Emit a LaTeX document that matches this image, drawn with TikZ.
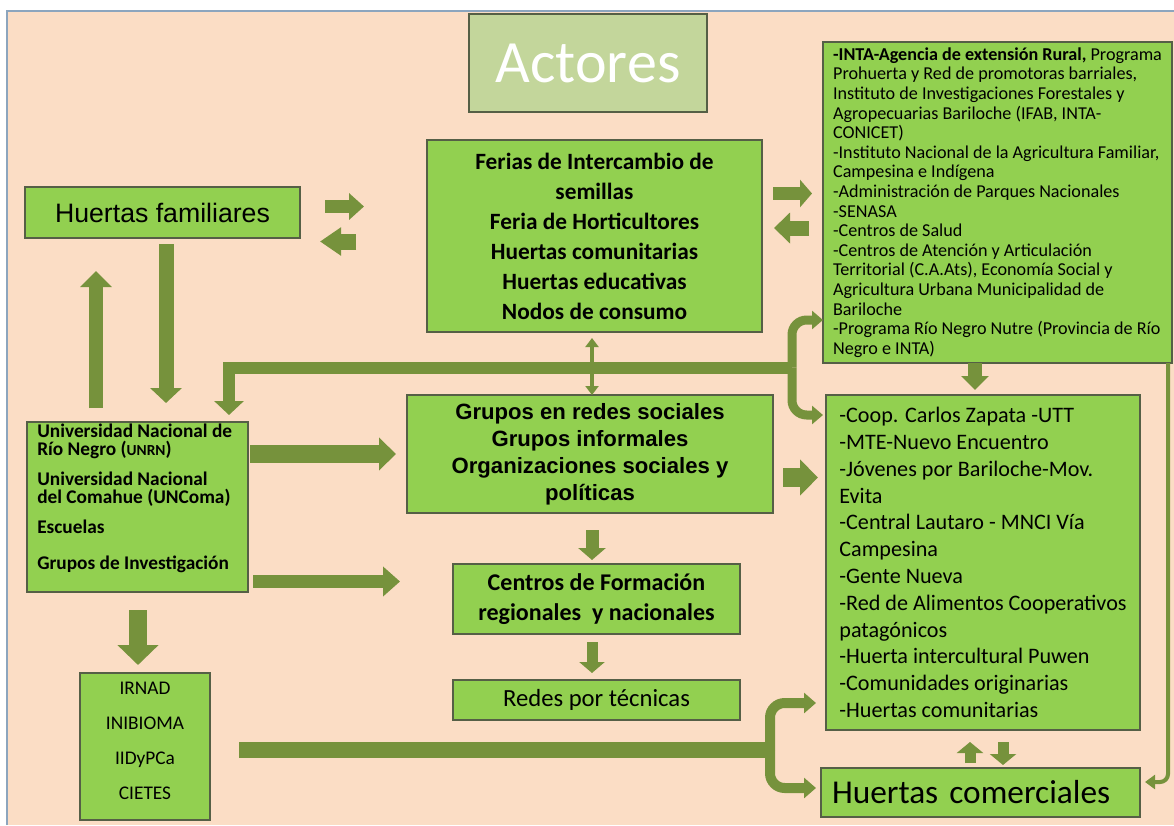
\documentclass[tikz,border=0pt]{standalone}
\usepackage{fontspec}
\setmainfont{Carlito}
\newfontfamily\arialf{Liberation Sans}
\usetikzlibrary{arrows.meta}
\definecolor{peach}{RGB}{251,221,197}
\definecolor{boxg}{RGB}{146,208,80}
\definecolor{arrc}{RGB}{118,146,60}
\definecolor{titleg}{RGB}{195,214,155}
\definecolor{edgec}{RGB}{85,95,70}
\definecolor{framec}{RGB}{140,165,190}
\tikzset{
  gbox/.style={draw=edgec, line width=0.8pt, fill=boxg, inner sep=0pt, text=black},
  blk/.style n args={3}{draw=arrc, line width=#1, -{Triangle[width=#2,length=#3]}},
  dbl/.style n args={3}{draw=arrc, line width=#1, {Triangle[width=#2,length=#3]}-{Triangle[width=#2,length=#3]}},
  barline/.style={draw=arrc, line width=#1},
}
\begin{document}
\begin{tikzpicture}[x=0.75pt,y=-0.75pt]
\useasboundingbox (0,0) rectangle (1174,825);
\fill[white] (0,0) rectangle (1174,825);
\fill[peach] (7,11) rectangle (1174,825);
\draw[framec, line width=1pt] (7,825) -- (7,11) -- (1174,11);

% boxes
\node[gbox, fill=titleg, minimum width=178.5pt, minimum height=73.5pt, text=white,
      font=\fontsize{45}{50}\selectfont] (title) at (588,63) {Actores};
\node[gbox, minimum width=206.25pt, minimum height=38.25pt,
      font=\arialf\fontsize{20}{24}\selectfont] (hf) at (162.5,212.5) {Huertas familiares};
\node[gbox, minimum width=251.25pt, minimum height=144pt, align=center,
      font=\bfseries\fontsize{17.5}{22.5}\selectfont] (ferias) at (594.5,236)
      {Ferias de Intercambio de\\semillas\\Feria de Horticultores\\Huertas comunitarias\\Huertas educativas\\Nodos de consumo};
\node[gbox, minimum width=261.75pt, minimum height=240.75pt, align=left,
      font=\fontsize{13.6}{14.7}\selectfont] (inta) at (997.5,202.5)
      {\textbf{-INTA-Agencia de extensión Rural,} Programa\\
       Prohuerta y Red de promotoras barriales,\\
       Instituto de Investigaciones Forestales y\\
       Agropecuarias Bariloche (IFAB, INTA-\\
       CONICET)\\
       -Instituto Nacional de la Agricultura Familiar,\\
       Campesina e Indígena\\
       -Administración de Parques Nacionales\\
       -SENASA\\
       -Centros de Salud\\
       -Centros de Atención y Articulación\\
       Territorial (C.A.Ats), Economía Social y\\
       Agricultura Urbana Municipalidad de\\
       Bariloche\\
       -Programa Río Negro Nutre (Provincia de Río\\
       Negro e INTA)};
\node[gbox, minimum width=165.75pt, minimum height=127.5pt] (univ) at (137.5,507) {};
\node[anchor=north west, inner sep=0pt, align=left,
      font=\bfseries\fontsize{14.5}{13.5}\selectfont] (univt) at (37,424)
      {Universidad Nacional de\\Río Negro ({\fontsize{11.5}{12}\selectfont UNRN})\\[9pt]
       Universidad Nacional\\del Comahue (UNComa)\\[9pt]
       Escuelas\\[13.5pt]
       Grupos de Investigación};
\node[gbox, minimum width=274.5pt, minimum height=88.5pt, align=center,
      font=\arialf\bfseries\fontsize{16.6}{20.25}\selectfont] (grupos) at (590,454)
      {Grupos en redes sociales\\Grupos informales\\Organizaciones sociales y\\políticas};
\node[gbox, minimum width=215.25pt, minimum height=52.5pt, align=center,
      font=\bfseries\fontsize{18}{22.5}\selectfont] (centros) at (596.5,599)
      {Centros de Formación\\regionales\ \ y nacionales};
\node[gbox, minimum width=215.25pt, minimum height=30pt,
      font=\fontsize{18.5}{22}\selectfont] (redes) at (596.5,700) {Redes por técnicas};
\node[gbox, minimum width=97.5pt, minimum height=110.25pt] (irnad) at (145,746.5) {};
\node[align=center, inner sep=0pt, font=\fontsize{14.5}{26.25}\selectfont] (irnadt) at (145,741)
      {IRNAD\\INIBIOMA\\IIDyPCa\\CIETES};
\node[gbox, minimum width=235.5pt, minimum height=251.25pt, align=left,
      font=\fontsize{16.6}{20.1}\selectfont] (coop) at (983,562.5)
      {-Coop. Carlos Zapata -UTT\\
       -MTE-Nuevo Encuentro\\
       -Jóvenes por Bariloche-Mov.\\
       Evita\\
       -Central Lautaro - MNCI Vía\\
       Campesina\\
       -Gente Nueva\\
       -Red de Alimentos Cooperativos\\
       patagónicos\\
       -Huerta intercultural Puwen\\
       -Comunidades originarias\\
       -Huertas comunitarias};
\node[gbox, minimum width=239.25pt, minimum height=36.75pt, text width=222.75pt, inner xsep=8.25pt,
      align=left, font=\fontsize{25}{28}\selectfont] (hc) at (980.5,792.5) {Huertas comerciales};

% free ends of connectors
\coordinate (a1s) at (325,206.5); \coordinate (a1e) at (364,206.5);
\coordinate (a2s) at (356,241.5); \coordinate (a2e) at (320,241.5);
\coordinate (a3s) at (773,193.5); \coordinate (a3e) at (812,193.5);
\coordinate (a4s) at (809,228);   \coordinate (a4e) at (774,228);
\coordinate (a5s) at (166,244);   \coordinate (a5e) at (166,403);
\coordinate (a6s) at (96,408);    \coordinate (a6e) at (96,271);
\coordinate (j1) at (792,367.5);  \coordinate (u1) at (229,415);
\coordinate (t1) at (823,320);    \coordinate (t2) at (823,415);
\coordinate (m1) at (592,338);    \coordinate (m2) at (592,395);
\coordinate (a10s) at (250,454);  \coordinate (a10e) at (396,454);
\coordinate (a11s) at (253,581.5);\coordinate (a11e) at (400,581.5);
\coordinate (a12s) at (783,477.5);\coordinate (a12e) at (818,477.5);
\coordinate (a13s) at (592,530);  \coordinate (a13e) at (592,560);
\coordinate (a14s) at (592,642);  \coordinate (a14e) at (592,673);
\coordinate (a15s) at (138,610);  \coordinate (a15e) at (138,665);
\coordinate (a16s) at (975,363);  \coordinate (a16e) at (975,390);
\coordinate (b2s) at (239,750);   \coordinate (j2) at (770,750);
\coordinate (t3) at (816,703);    \coordinate (t4) at (816,788);
\coordinate (a18s) at (970,763);  \coordinate (a18e) at (970,742);
\coordinate (a19s) at (1003,742); \coordinate (a19e) at (1003,765);
\coordinate (r1) at (1168,363);   \coordinate (r2) at (1168,782); \coordinate (r3) at (1145,782);

% connectors
\draw[blk={9.75pt}{19.5pt}{11.25pt}] (a1s) -- (a1e);
\draw[blk={12pt}{20.25pt}{15.75pt}] (a2s) -- (a2e);
\draw[blk={9.75pt}{20.25pt}{9pt}] (a3s) -- (a3e);
\draw[blk={11.25pt}{22.5pt}{12pt}] (a4s) -- (a4e);
\draw[blk={11.25pt}{23.25pt}{11.25pt}] (a5s) -- (a5e);
\draw[blk={10.5pt}{23.25pt}{12pt}] (a6s) -- (a6e);
\draw[dbl={3.4pt}{9.75pt}{6.75pt}] (m1) -- (m2);
\draw[blk={9pt}{21.75pt}{10.5pt}] (j1) -| (u1);
\draw[blk={6.75pt}{13.5pt}{8.25pt}, rounded corners=11pt] (j1) |- (t1);
\draw[blk={6.75pt}{13.5pt}{8.25pt}, rounded corners=11pt] (j1) |- (t2);
\draw[blk={13.5pt}{24pt}{12.75pt}] (a10s) -- (a10e);
\draw[blk={9.75pt}{21.75pt}{12.75pt}] (a11s) -- (a11e);
\draw[blk={14.25pt}{26.25pt}{13.5pt}] (a12s) -- (a12e);
\draw[blk={9.75pt}{20.25pt}{9pt}] (a13s) -- (a13e);
\draw[blk={8.25pt}{18.75pt}{8.25pt}] (a14s) -- (a14e);
\draw[blk={13.5pt}{30pt}{15pt}] (a15s) -- (a15e);
\draw[blk={10.5pt}{20.25pt}{10.5pt}] (a16s) -- (a16e);
\draw[barline=12pt] (b2s) -- (j2);
\draw[blk={7.5pt}{15pt}{9pt}, rounded corners=11pt] (j2) |- (t3);
\draw[blk={7.5pt}{15pt}{9pt}, rounded corners=11pt] (j2) |- (t4);
\draw[blk={8.25pt}{19.5pt}{8.25pt}] (a18s) -- (a18e);
\draw[blk={8.25pt}{19.5pt}{8.25pt}] (a19s) -- (a19e);
\draw[blk={3pt}{10.5pt}{7.5pt}, rounded corners=6pt] (r1) -- (r2) -- (r3);
\end{tikzpicture}
\end{document}
